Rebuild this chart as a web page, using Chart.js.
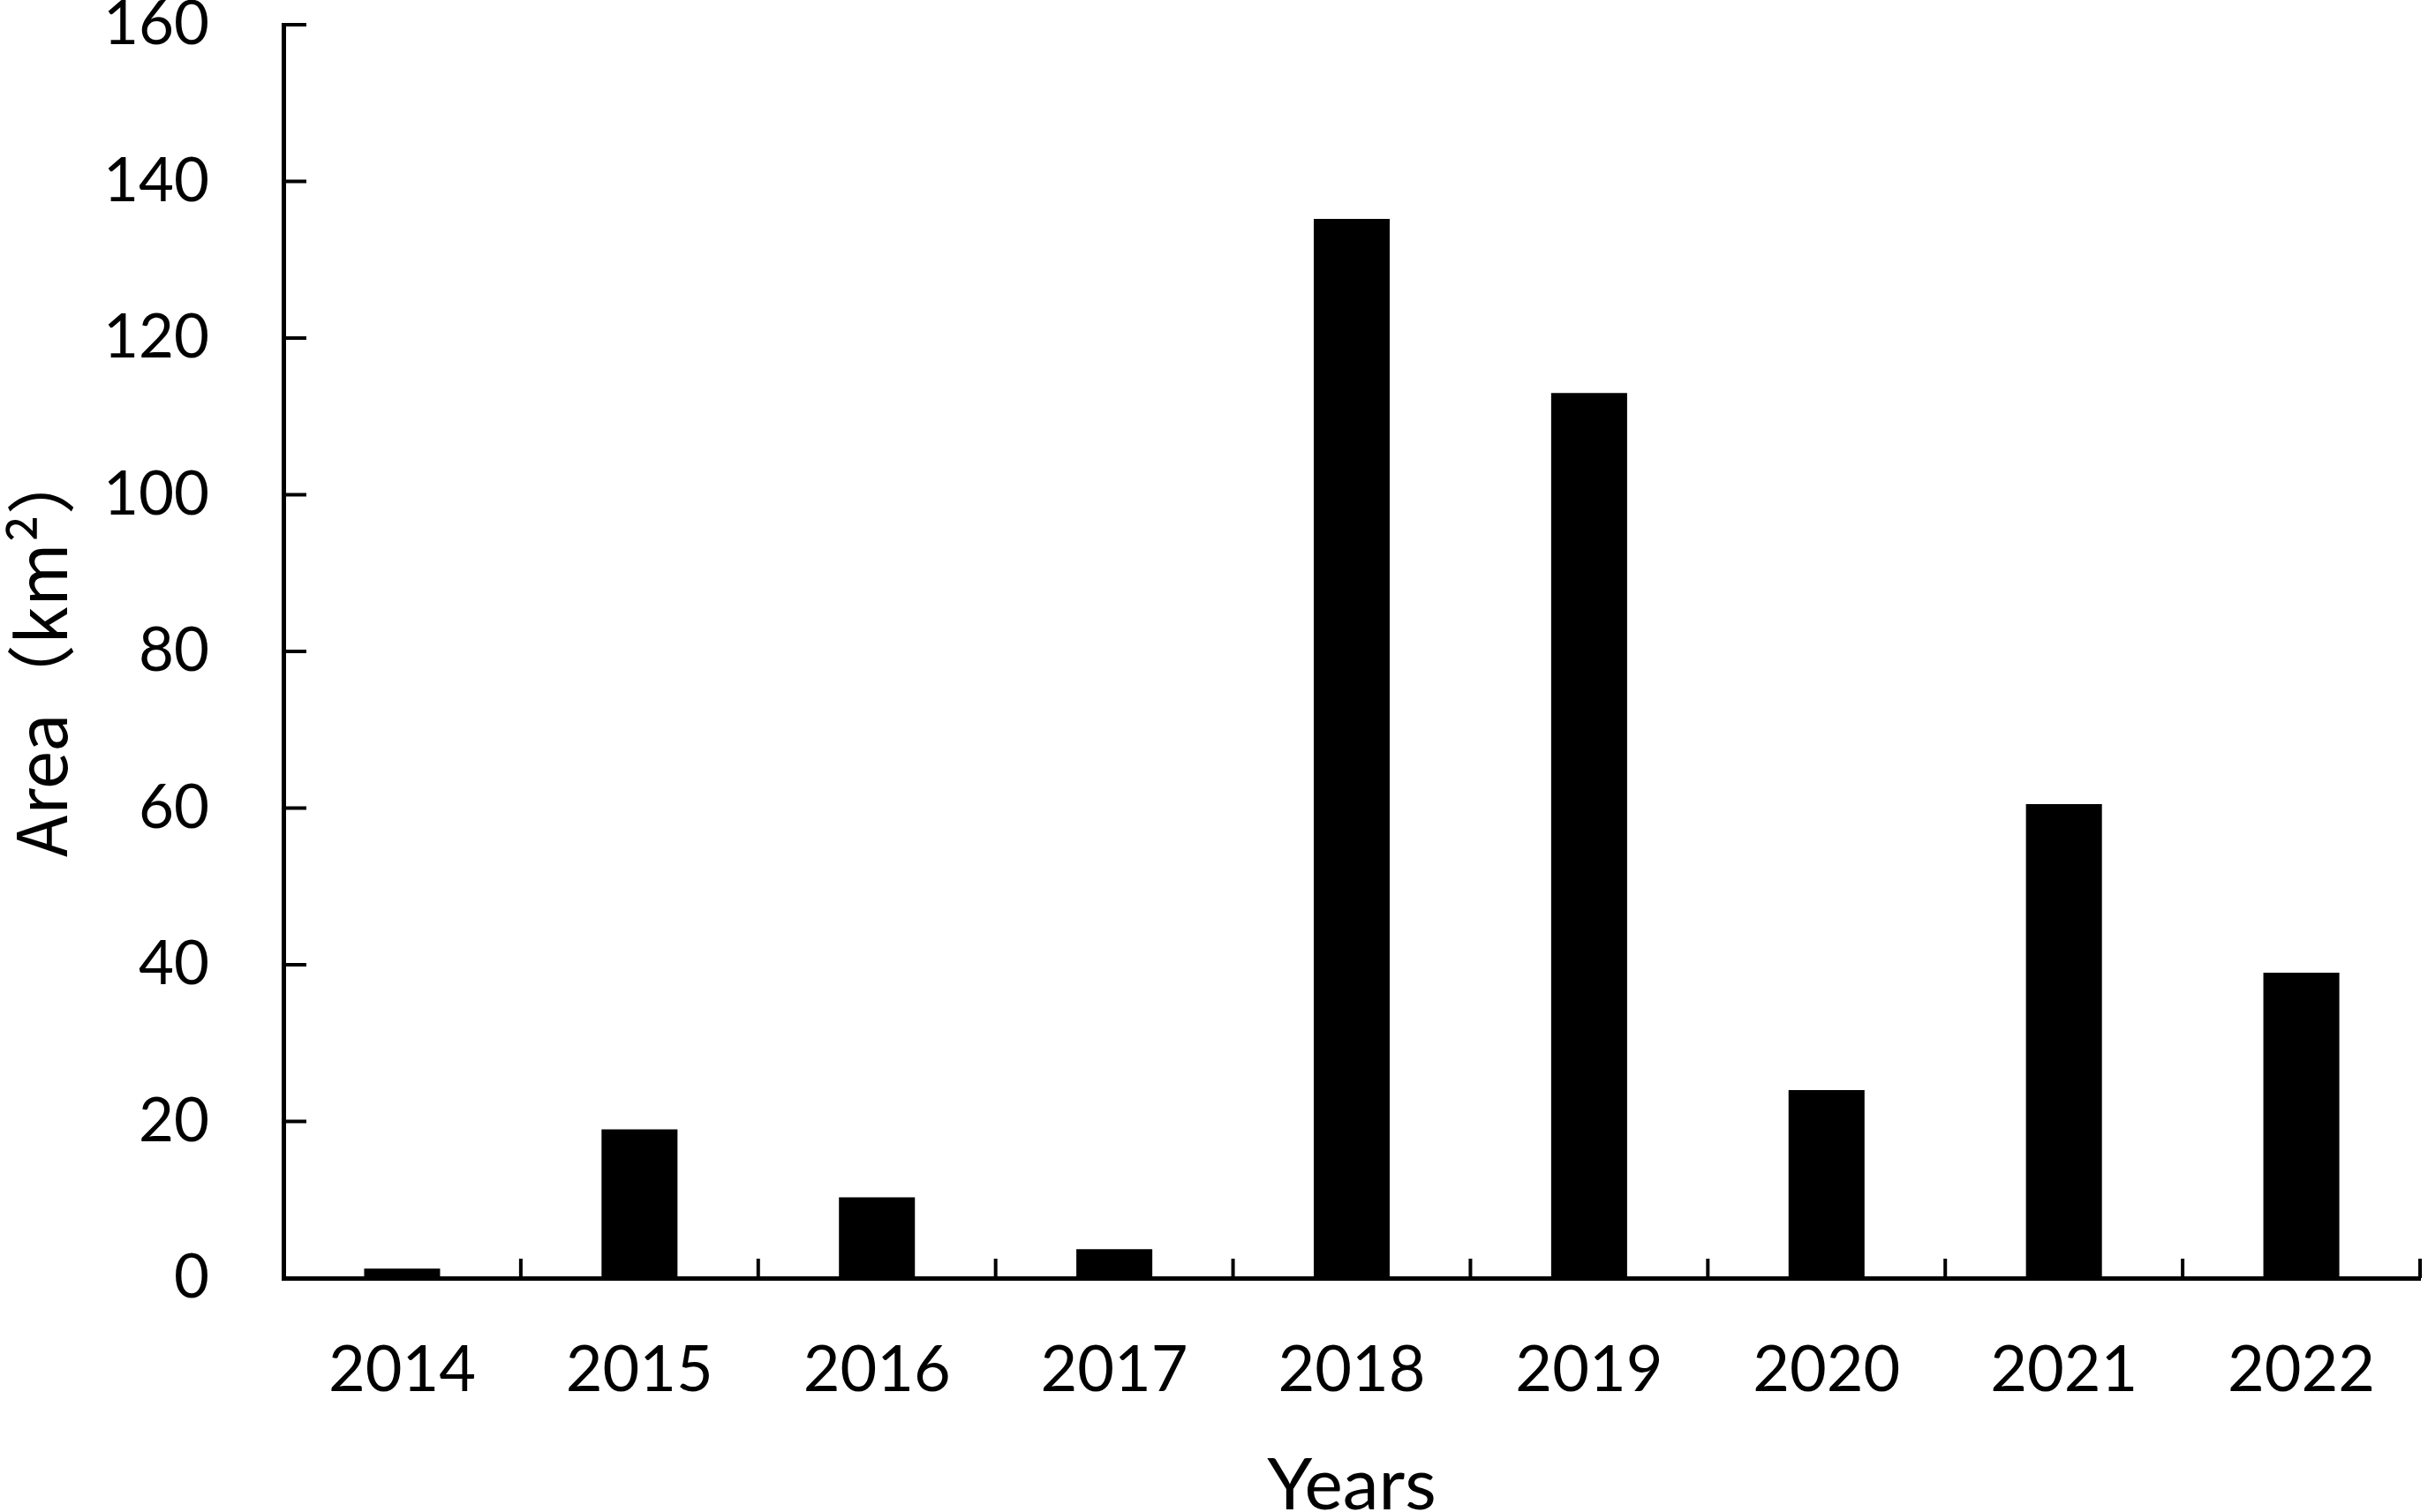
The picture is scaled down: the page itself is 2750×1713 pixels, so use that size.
<!DOCTYPE html>
<html>
<head>
<meta charset="utf-8">
<script src="https://cdn.jsdelivr.net/npm/chart.js@4.4.1/dist/chart.umd.min.js"></script>
<style>
  html, body { margin: 0; padding: 0; background: #fff; }
  #wrap { width: 2750px; height: 1713px; }
</style>
</head>
<body>
<div id="wrap"><canvas id="areaChart"></canvas></div>
<script>
// Data
var years = ['2014', '2015', '2016', '2017', '2018', '2019', '2020', '2021', '2022'];
var areaValues = [1.2, 19.0, 10.3, 3.7, 135.2, 113.0, 24.0, 60.5, 39.0];
var yTicks = [0, 20, 40, 60, 80, 100, 120, 140, 160];

// Draws the small inward tick marks (y ticks to the right, x ticks upward)
var inwardTicks = {
  id: 'inwardTicks',
  afterDraw: function(chart) {
    var ctx = chart.ctx;
    var xs = chart.scales.x, ys = chart.scales.y;
    var area = chart.chartArea;
    ctx.save();
    ctx.strokeStyle = '#000';
    ctx.lineWidth = 4;
    ctx.beginPath();
    yTicks.forEach(function(v) {
      var py = ys.getPixelForValue(v);
      ctx.moveTo(area.left, py);
      ctx.lineTo(area.left + 26, py);
    });
    for (var i = 0; i <= years.length; i++) {
      var px = xs.getPixelForValue(i - 0.5);
      ctx.moveTo(px, area.bottom);
      ctx.lineTo(px, area.bottom - 22);
    }
    ctx.stroke();
    ctx.restore();
  }
};

var ctx = document.getElementById('areaChart').getContext('2d');
var chart = new Chart(ctx, {
  type: 'bar',
  data: {
    labels: years,
    datasets: [{
      data: areaValues,
      backgroundColor: '#000',
      borderWidth: 0,
      barPercentage: 0.32,
      categoryPercentage: 1.0
    }]
  },
  options: {
    responsive: true,
    maintainAspectRatio: false,
    animation: false,
    layout: { padding: { left: 0, right: 9, top: 28, bottom: 0 } },
    plugins: { legend: { display: false }, tooltip: { enabled: false } },
    scales: {
      x: {
        grid: { display: false, drawTicks: false },
        border: { display: true, color: '#000', width: 5 },
        ticks: {
          color: '#000',
          padding: 62,
          font: { family: 'Lato', size: 72 }
        },
        title: {
          display: true,
          text: 'Years',
          color: '#000',
          font: { family: 'Lato', size: 82, lineHeight: 0.72 },
          padding: { top: 0, bottom: 0 }
        },
        afterFit: function(scale) {
          scale.height = 265;
          scale.paddingLeft = 0;
          scale.paddingRight = 0;
        }
      },
      y: {
        min: 0,
        max: 160,
        grid: { display: false, drawTicks: false },
        border: { display: true, color: '#000', width: 5 },
        ticks: {
          stepSize: 20,
          color: '#000',
          padding: 84,
          font: { family: 'Lato', size: 69 }
        },
        title: {
          display: true,
          text: 'Area（km²）',
          color: '#000',
          font: { family: "'Noto Sans CJK SC', 'Noto Sans'", size: 78, lineHeight: 1.1 },
          padding: { top: 3, bottom: 0 }
        },
        afterFit: function(scale) {
          scale.width = 321;
          scale.paddingTop = 0;
          scale.paddingBottom = 0;
        }
      }
    }
  },
  plugins: [inwardTicks]
});
</script>
</body>
</html>
